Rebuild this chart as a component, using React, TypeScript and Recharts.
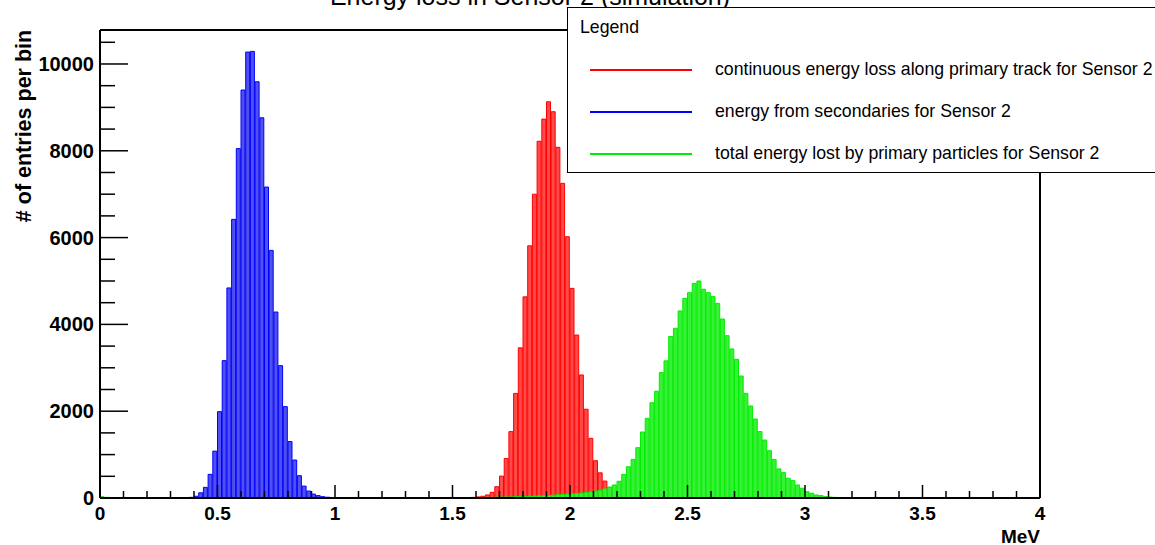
import { BarChart, Bar, XAxis, YAxis, ReferenceLine } from "recharts";

const FONT = '"Liberation Sans", Arial, Helvetica, sans-serif';

// histogram binning (MeV)
const binWidth = 0.02;
const binCount = 200;

// continuous energy loss along primary track, first bin at 1.58 MeV
const redStart = 1.58;
const redCounts = [
  15, 25, 40, 70, 130, 260, 505, 910, 1530, 2410, 3460, 4635, 5810, 7000,
  8220, 8730, 9130, 8900, 8080, 7250, 6020, 4830, 3755, 2835, 2045, 1375, 860,
  580, 390, 245, 110, 50, 20,
];

// energy from secondaries, first bin at 0.38 MeV
const blueStart = 0.38;
const blueCounts = [
  15, 40, 120, 245, 545, 1080, 1990, 3165, 4840, 6420, 8050, 9400, 10275,
  10290, 9590, 8760, 7165, 5705, 4285, 3050, 2105, 1300, 875, 515, 275, 160, 90,
  55, 30, 18, 10,
];

// total energy lost by primary particles, first bin at 1.60 MeV
const greenStart = 1.6;
const greenCounts = [
  10, 10, 15, 15, 20, 20, 25, 25, 30, 35, 35, 40, 45, 50, 55, 60, 65, 75, 80, 90,
  95, 105, 115, 125, 140, 160, 180, 210, 250, 300, 385, 545, 720, 890, 1160,
  1520, 1835, 2195, 2460, 2890, 3160, 3720, 3910, 4310, 4600, 4730, 4945, 5000,
  4810, 4730, 4640, 4485, 4125, 3740, 3435, 3195, 2810, 2410, 2120, 1820, 1530,
  1335, 1090, 890, 670, 585, 455, 400, 300, 225, 145, 110, 70, 55, 32, 22, 15,
  10, 6,
];
// a few entries in the very first bins
const greenLowStart = 0;
const greenLowCounts = [30, 15];

const xTicks = [
  0, 0.1, 0.2, 0.3, 0.4, 0.5, 0.6, 0.7, 0.8, 0.9, 1, 1.1, 1.2, 1.3, 1.4, 1.5,
  1.6, 1.7, 1.8, 1.9, 2, 2.1, 2.2, 2.3, 2.4, 2.5, 2.6, 2.7, 2.8, 2.9, 3, 3.1,
  3.2, 3.3, 3.4, 3.5, 3.6, 3.7, 3.8, 3.9, 4,
];
const xLabelled = [0, 0.5, 1, 1.5, 2, 2.5, 3, 3.5, 4];
const yTicks = [
  0, 500, 1000, 1500, 2000, 2500, 3000, 3500, 4000, 4500, 5000, 5500, 6000,
  6500, 7000, 7500, 8000, 8500, 9000, 9500, 10000, 10500,
];
const yLabelled = [0, 2000, 4000, 6000, 8000, 10000];
const xMax = 4;
const yMax = 10783;

const legendItems = [
  { label: "continuous energy loss along primary track for Sensor 2", color: "#ff0000" },
  { label: "energy from secondaries for Sensor 2", color: "#0000ff" },
  { label: "total energy lost by primary particles for Sensor 2", color: "#00ee00" },
];

const countAt = (start: number, counts: number[], i: number) => {
  const k = i - Math.round(start / binWidth);
  return k >= 0 && k < counts.length ? counts[k] : 0;
};

// one row per bin, keyed by the bin centre
const data = Array.from({ length: binCount }, (_, i) => ({
  e: (i + 0.5) * binWidth,
  red: countAt(redStart, redCounts, i),
  blue: countAt(blueStart, blueCounts, i),
  green:
    countAt(greenStart, greenCounts, i) ||
    countAt(greenLowStart, greenLowCounts, i),
}));

const XTick = (props: any) => {
  const { x, y, payload } = props;
  const v = payload.value;
  const major = xLabelled.some((t) => Math.abs(t - v) < 1e-6);
  return (
    <g>
      <line x1={x} x2={x} y1={y} y2={y - (major ? 13 : 7)} stroke="#000" strokeWidth={1.5} />
      {major && (
        <text x={x} y={y + 22} textAnchor="middle" fontSize={19} fontWeight="bold" fontFamily={FONT} fill="#000">
          {String(v)}
        </text>
      )}
    </g>
  );
};

const YTick = (props: any) => {
  const { x, y, payload } = props;
  const v = payload.value;
  const major = yLabelled.includes(v);
  return (
    <g>
      <line x1={x} x2={x + (major ? 28 : 15)} y1={y} y2={y} stroke="#000" strokeWidth={1.5} />
      {major && (
        <text x={x - 6} y={y + 7} textAnchor="end" fontSize={20} fontWeight="bold" fontFamily={FONT} fill="#000">
          {v}
        </text>
      )}
    </g>
  );
};

export default function App() {
  return (
    <div style={{ position: "absolute", left: 0, top: 0, width: 1155, height: 545, background: "#fff", overflow: "hidden", fontFamily: FONT }}>
      <BarChart
        width={1155}
        height={545}
        data={data}
        margin={{ top: 30, right: 115, bottom: 0, left: 0 }}
        barSize={4}
        barGap={-4}
      >
        <XAxis
          dataKey="e"
          type="number"
          domain={[0, xMax]}
          ticks={xTicks}
          interval={0}
          height={47}
          tickSize={0}
          tickMargin={0}
          tickLine={false}
          tick={<XTick />}
          axisLine={{ stroke: "#000", strokeWidth: 2 }}
          allowDataOverflow
        />
        <YAxis
          type="number"
          domain={[0, yMax]}
          ticks={yTicks}
          interval={0}
          width={100}
          tickSize={0}
          tickMargin={0}
          tickLine={false}
          tick={<YTick />}
          axisLine={{ stroke: "#000", strokeWidth: 2 }}
          allowDataOverflow
        />
        <Bar dataKey="red" fill="#ff4a4a" stroke="#ff0000" strokeWidth={1} isAnimationActive={false} />
        <Bar dataKey="blue" fill="#5050ee" stroke="#0000ff" strokeWidth={1} isAnimationActive={false} />
        <Bar dataKey="green" fill="#38f038" stroke="#00ee00" strokeWidth={1} isAnimationActive={false} />
        {/* frame top and right */}
        <ReferenceLine y={yMax} stroke="#000" strokeWidth={2} ifOverflow="visible" />
        <ReferenceLine x={xMax} stroke="#000" strokeWidth={2} ifOverflow="visible" />
      </BarChart>

      {/* title (mostly cut off by the top edge), axis titles */}
      <svg width={1155} height={545} style={{ position: "absolute", left: 0, top: 0, pointerEvents: "none" }}>
        <text x={530} y={5} textAnchor="middle" fontSize={25} fontFamily={FONT} fill="#000">
          Energy loss in Sensor 2 (simulation)
        </text>
        <text
          x={24}
          y={126}
          transform="rotate(-90 24 126)"
          textAnchor="middle"
          dominantBaseline="central"
          fontSize={21.5}
          fontWeight="bold"
          fontFamily={FONT}
          fill="#000"
        >
          # of entries per bin
        </text>
        <text x={1040} y={543} textAnchor="end" fontSize={19} fontWeight="bold" fontFamily={FONT} fill="#000">
          MeV
        </text>
      </svg>

      {/* legend box */}
      <div
        style={{
          position: "absolute",
          left: 567,
          top: 7,
          width: 620,
          height: 164,
          border: "1.5px solid #000",
          background: "#fff",
          fontSize: 17.7,
          color: "#000",
        }}
      >
        <div style={{ position: "absolute", left: 12, top: 8, lineHeight: "22px" }}>Legend</div>
        {legendItems.map((item, i) => (
          <div key={item.label}>
            <div style={{ position: "absolute", left: 22, top: 61 + i * 42, width: 102, height: 2, background: item.color }} />
            <div style={{ position: "absolute", left: 147, top: 50 + i * 42, whiteSpace: "nowrap", lineHeight: "22px" }}>
              {item.label}
            </div>
          </div>
        ))}
      </div>
    </div>
  );
}
